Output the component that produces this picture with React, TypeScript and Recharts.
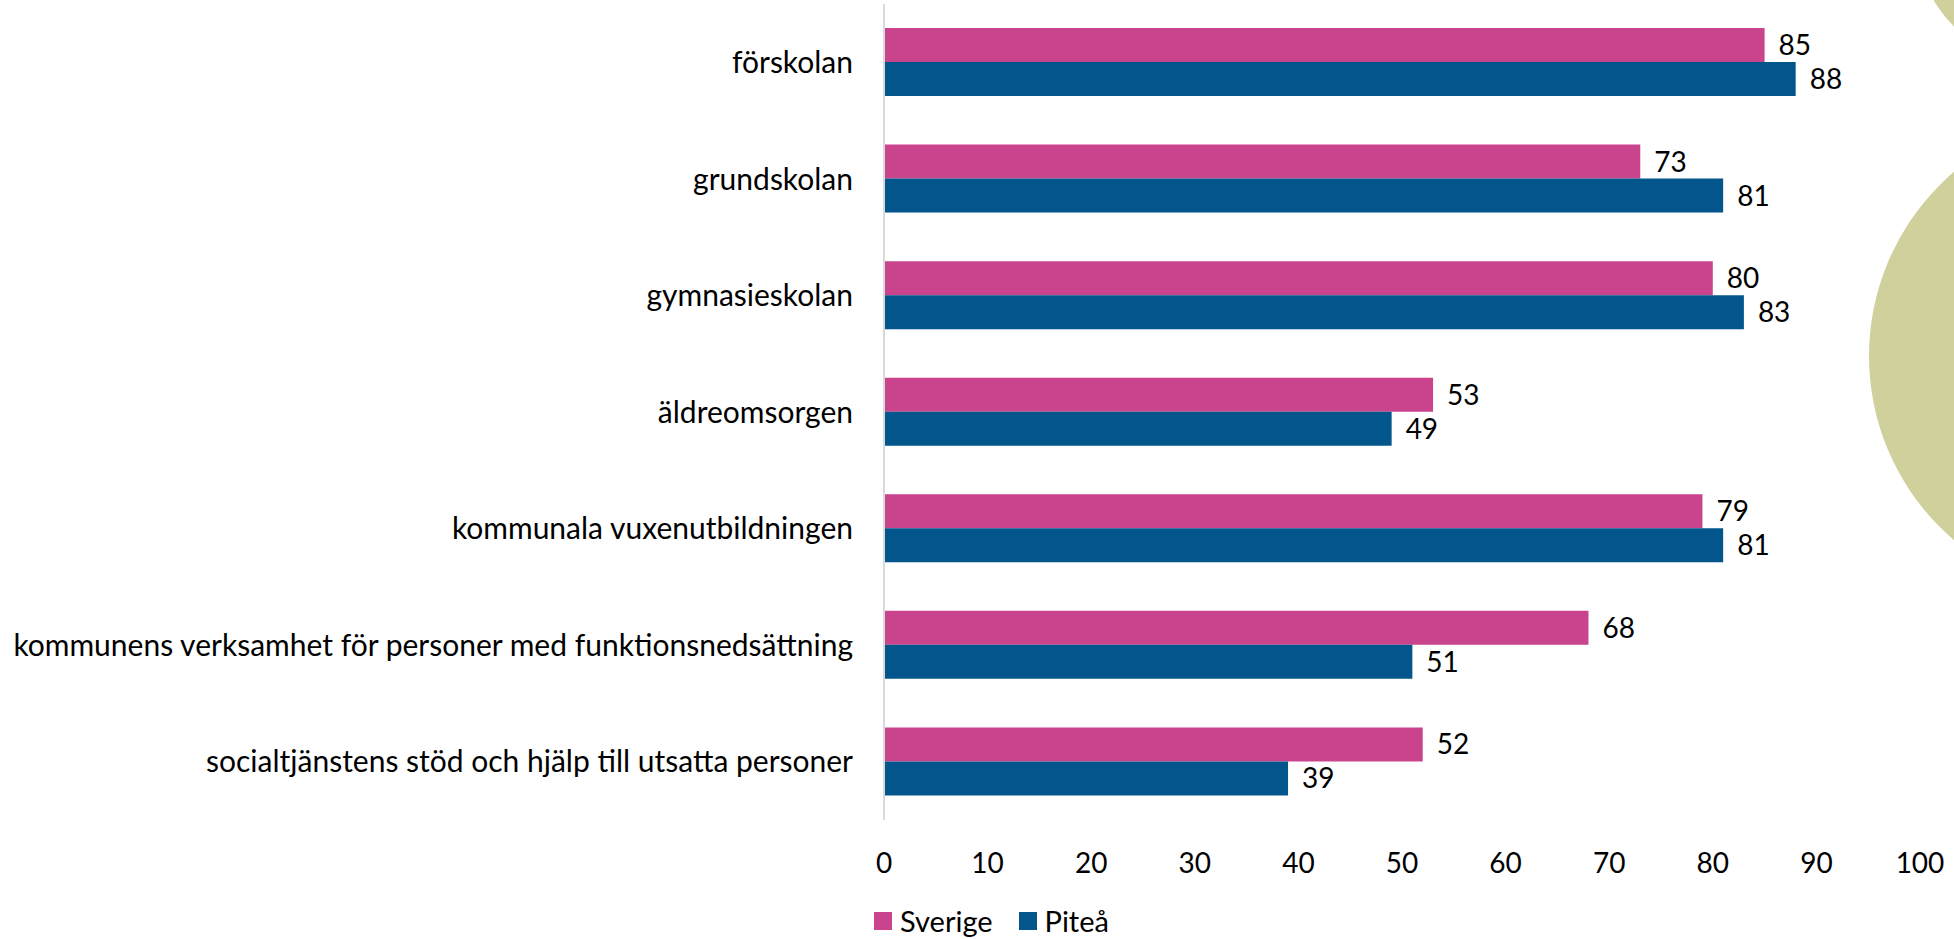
import React from 'react';
import { BarChart, Bar, XAxis, YAxis, LabelList } from 'recharts';

const categories = [
  'förskolan',
  'grundskolan',
  'gymnasieskolan',
  'äldreomsorgen',
  'kommunala vuxenutbildningen',
  'kommunens verksamhet för personer med funktionsnedsättning',
  'socialtjänstens stöd och hjälp till utsatta personer',
];
const sverige = [85, 73, 80, 53, 79, 68, 52];
const pitea = [88, 81, 83, 49, 81, 51, 39];
const xTicks = [0, 10, 20, 30, 40, 50, 60, 70, 80, 90, 100];
const seriesNames = ['Sverige', 'Piteå'];

const PINK = '#C9438D';
const BLUE = '#02568C';
const OLIVE = '#CFD09B';
const FONT = 'Lato, "Open Sans", sans-serif';

const data = categories.map((name, i) => ({
  name,
  Sverige: sverige[i],
  Piteå: pitea[i],
}));

const seriesColors = [PINK, BLUE];

export default function App() {
  return (
    <div style={{ position: 'absolute', left: 0, top: 0, width: 1954, height: 939, overflow: 'hidden', background: '#fff' }}>
      {/* decorative circles on the right edge */}
      <div style={{ position: 'absolute', left: 2111 - 242, top: 356 - 242, width: 484, height: 484, borderRadius: '50%', background: OLIVE }} />
      <div style={{ position: 'absolute', left: 2045 - 129, top: -65 - 129, width: 258, height: 258, borderRadius: '50%', background: OLIVE }} />
      <div style={{ position: 'absolute', left: 0, top: 0 }}>
        <BarChart
          width={1954}
          height={939}
          data={data}
          layout="vertical"
          margin={{ top: 4, right: 34, bottom: 0, left: 0 }}
          barSize={34}
          barGap={0}
        >
          <XAxis
            type="number"
            domain={[0, 100]}
            ticks={xTicks}
            axisLine={false}
            tickLine={false}
            tickSize={0}
            tickMargin={33}
            height={119}
            tick={{ fontFamily: FONT, fontSize: 28, fill: '#000' }}
            interval={0}
          />
          <YAxis
            type="category"
            dataKey="name"
            width={884}
            axisLine={{ stroke: '#D9D9D9', strokeWidth: 2 }}
            tickLine={false}
            tickSize={0}
            tickMargin={31}
            tick={{ fontFamily: FONT, fontSize: 30, fill: '#000' }}
            interval={0}
          />
          <Bar dataKey="Sverige" fill={PINK} isAnimationActive={false}>
            <LabelList dataKey="Sverige" position="right" offset={14} style={{ fontFamily: FONT, fontSize: 28, fill: '#000' }} />
          </Bar>
          <Bar dataKey="Piteå" fill={BLUE} isAnimationActive={false}>
            <LabelList dataKey="Piteå" position="right" offset={14} style={{ fontFamily: FONT, fontSize: 28, fill: '#000' }} />
          </Bar>
        </BarChart>
      </div>
      {/* legend */}
      <div style={{ position: 'absolute', left: 874, top: 906, display: 'flex', alignItems: 'center', fontFamily: FONT, fontSize: 29, color: '#000' }}>
        {seriesNames.map((n, i) => (
          <div key={n} style={{ display: 'flex', alignItems: 'center', marginRight: 26 }}>
            <span style={{ width: 18, height: 18, background: seriesColors[i], display: 'inline-block', marginRight: 8 }} />
            <span style={{ lineHeight: '30px' }}>{n}</span>
          </div>
        ))}
      </div>
    </div>
  );
}
